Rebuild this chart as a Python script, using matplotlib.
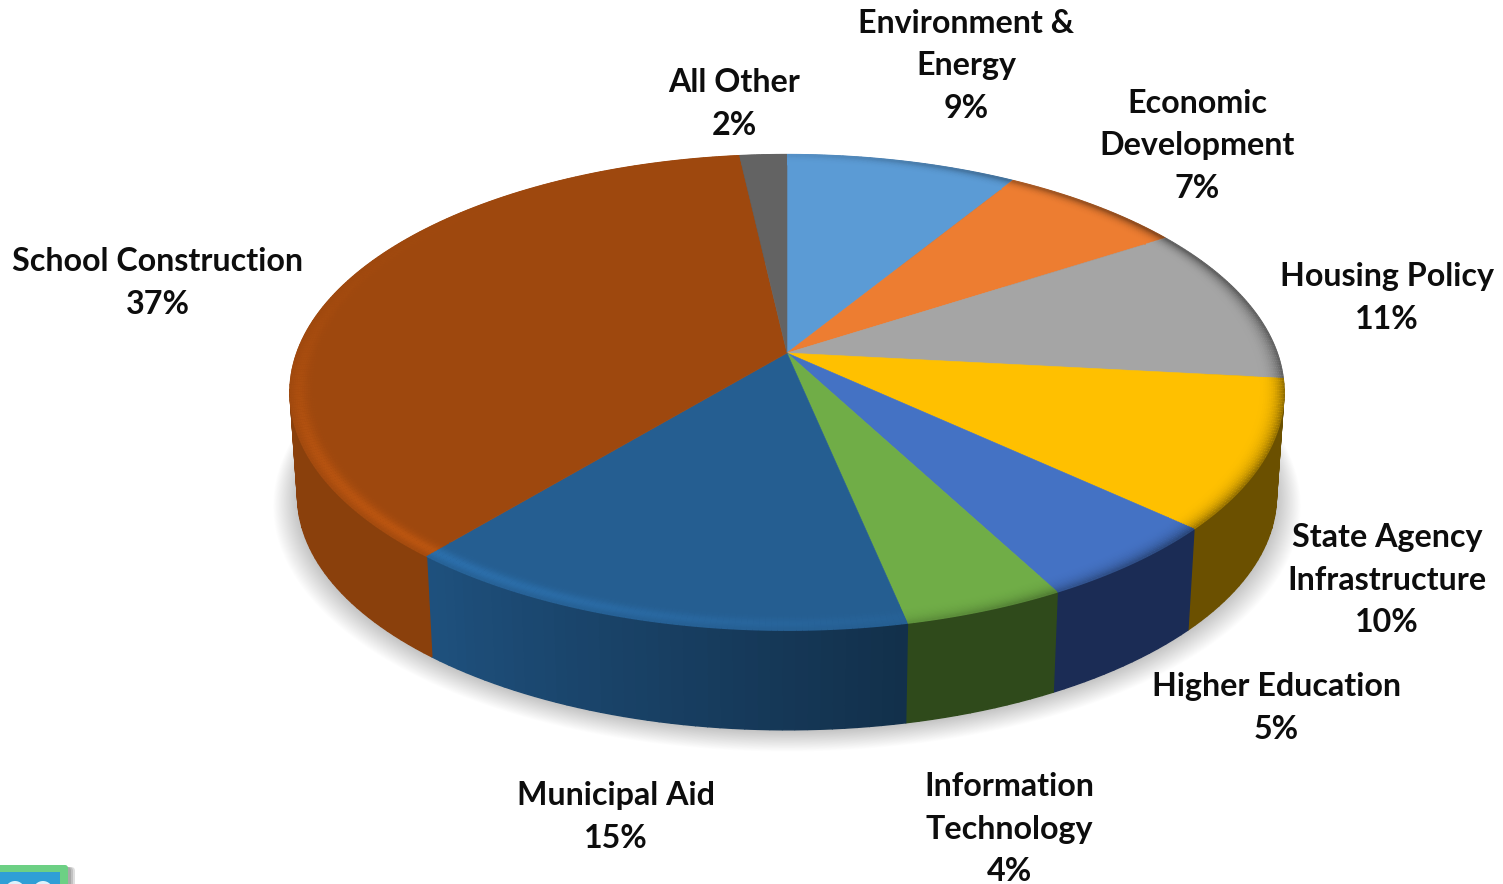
import matplotlib
matplotlib.use("Agg")
import matplotlib.pyplot as plt
import numpy as np
from matplotlib.collections import LineCollection
from matplotlib.patches import Circle, FancyBboxPatch

plt.rcParams['font.family'] = ['Lato', 'DejaVu Sans']

# Data, clockwise from 12 o'clock
labels = ["Environment &\nEnergy", "Economic\nDevelopment", "Housing Policy",
          "State Agency\nInfrastructure", "Higher Education", "Information\nTechnology",
          "Municipal Aid", "School Construction", "All Other"]
# printed percentages
percents = [9, 7, 11, 10, 5, 4, 15, 37, 2]
# slice sizes as measured on the picture
shares = [8.8, 7.1, 10.8, 10.1, 5.4, 4.5, 14.4, 37.1, 1.8]
colors = ["#5B9BD5", "#ED7D31", "#A5A5A5", "#FFC000", "#4472C4",
          "#70AD47", "#255E91", "#9E480E", "#636363"]
wall_colors = ["#3A6A96", "#9A5220", "#6E6E6E", "#6B5000", "#1B2C55",
               "#2F4A1B", "#1F5280", "#8A400C", "#444444"]

# Label centres in pixels
label_x = [966, 1197, 1387, 1387, 1276, 1009, 616, 158, 734]
label_y = [66, 146, 298, 580, 708, 829, 817, 283, 104]

# Pie geometry in pixels, k is the perspective strength
cx, cy = 787, 353
half_w, half_h, k = 490, 231, 0.166
depth = 104
bottom_scale = 0.985


def project(theta, r=1.0, drop=0.0, scale=1.0):
    x = r * np.sin(theta)
    y = r * np.cos(theta)
    w = 1 + k * y
    return cx + scale * half_w * x / w, cy + drop - scale * half_h * y / w


def mix(a, b, t):
    return tuple(np.array(a) * (1 - t) + np.array(b) * t)


rgb = matplotlib.colors.to_rgb

fig = plt.figure(figsize=(15.03, 8.84), dpi=100)
ax = fig.add_axes([0, 0, 1, 1])
ax.set_xlim(0, 1503)
ax.set_ylim(884, 0)
ax.axis('off')

edges = np.cumsum([0] + shares) / sum(shares) * 2 * np.pi
ring = np.linspace(0, 2 * np.pi, 400)

# Soft shadow under the pie
for grow in np.linspace(24, 0, 30):
    sx, sy = project(ring, drop=depth + 1, scale=bottom_scale + grow / half_w)
    ax.fill(sx, sy + grow * 0.3, color="#000000", alpha=0.007, lw=0, zorder=1)

# Side wall, small quads so the shade can change along the arc
for i in range(len(shares)):
    thetas = np.linspace(edges[i], edges[i + 1], max(int(shares[i] * 3), 4))
    for t0, t1 in zip(thetas[:-1], thetas[1:]):
        tm = (t0 + t1) / 2
        x0, y0 = project(np.array([t0, t1]))
        x1, y1 = project(np.array([t1, t0]), drop=depth, scale=bottom_scale)
        # municipal aid gets darker toward the right
        shade = np.clip((np.radians(222) - tm) / np.radians(54), 0, 1) * 0.42 if i == 6 else 0
        col = mix(rgb(wall_colors[i]), (0, 0, 0), shade)
        ax.fill(np.r_[x0, x1], np.r_[y0, y1], color=col, ec=col, lw=1.0, zorder=2)

# Top face
for i in range(len(shares)):
    thetas = np.linspace(edges[i], edges[i + 1], max(int(shares[i] * 6), 4))
    x, y = project(thetas)
    ax.fill(np.r_[cx, x], np.r_[cy, y], color=colors[i], ec=colors[i], lw=0.4, zorder=3)

# Bevel on the rim, bright on the left and dark on the right
rim_r = np.linspace(0.945, 0.9995, 16)
for i in range(len(shares)):
    base = rgb(colors[i])
    bright = tuple(np.clip(np.array(base) * 1.35, 0, 1))
    thetas = np.linspace(edges[i], edges[i + 1], max(int(shares[i] * 6), 4))
    for r in rim_r:
        bx, by = project(thetas, r=r)
        pts = np.column_stack([bx, by])
        segs = np.stack([pts[:-1], pts[1:]], axis=1)
        light_fade = np.exp(-((r - 0.982) / 0.016) ** 2)
        dark_fade = np.clip((r - 0.945) / 0.055, 0, 1) ** 3
        seg_cols = []
        for tm in (thetas[:-1] + thetas[1:]) / 2:
            deg = np.degrees(tm)
            if i >= 6:
                amount = 0.5 * np.exp(-((deg - 225) / 45) ** 2)
                seg_cols.append(mix(base, bright, amount * light_fade))
            else:
                amount = 0.42 * np.clip(np.sin(tm) + 0.15, 0, 1)
                seg_cols.append(mix(base, (0, 0, 0), amount * dark_fade))
        ax.add_collection(LineCollection(segs, colors=seg_cols, linewidths=1.6,
                                         capstyle='butt', zorder=4))

# Labels
for name, pct, x, y in zip(labels, percents, label_x, label_y):
    ax.text(x, y, f"{name}\n{pct}%", ha='center', va='center', fontsize=23.2,
            fontweight='bold', color="#0D0D0D", linespacing=1.55, zorder=6)

# Bit of the licence badge cut off at the bottom left corner
for grow in [7, 5, 3]:
    ax.add_patch(FancyBboxPatch((-20, 867), 88 + grow, 40, boxstyle="round,pad=0,rounding_size=4",
                                fc="#000000", ec="none", alpha=0.13, zorder=7))
ax.add_patch(FancyBboxPatch((-20, 865), 88, 40, boxstyle="round,pad=0,rounding_size=3",
                            fc="#6CD084", ec="none", zorder=8))
ax.add_patch(FancyBboxPatch((-20, 872), 80, 40, boxstyle="square,pad=0",
                            fc="#2F9FD6", ec="none", zorder=9))
for x in [15, 43]:
    ax.add_patch(Circle((x, 891), 10, fc="#DDF2FB", ec="none", zorder=10))
    ax.add_patch(Circle((x, 894), 6, fc="#2F9FD6", ec="none", zorder=11))

fig.savefig("out.png", dpi=100)
